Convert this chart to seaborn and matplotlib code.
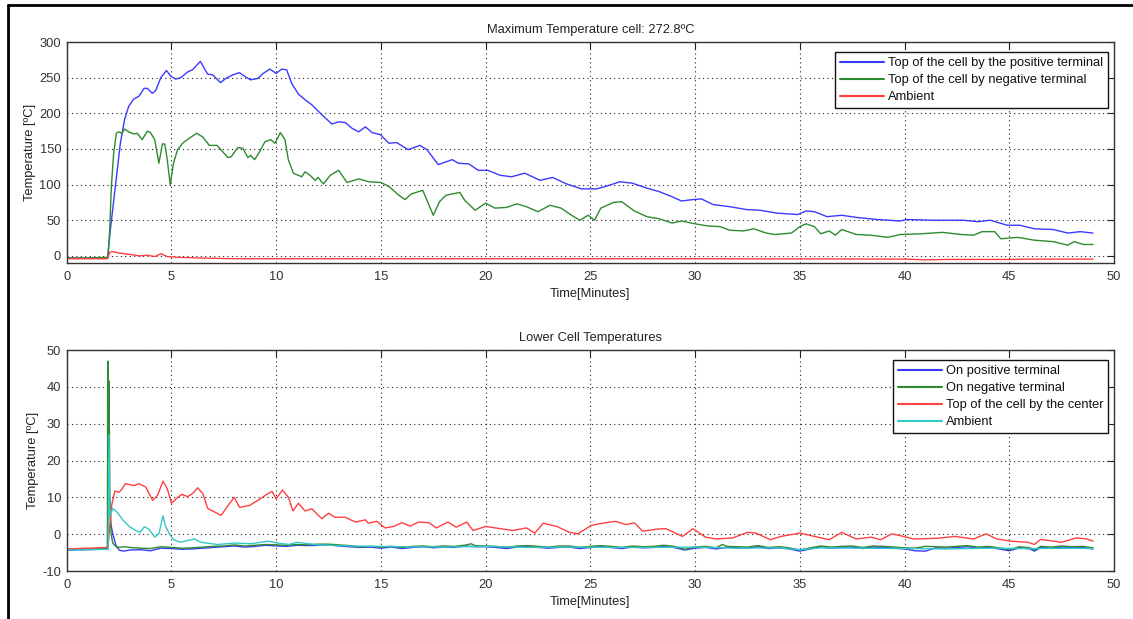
import numpy as np
import pandas as pd
import matplotlib
matplotlib.use("Agg")
import matplotlib.pyplot as plt
import seaborn as sns
from matplotlib.lines import Line2D

# ---------------- data (time [min], temperature [ºC]) ----------------
top_positive = [(0, -3), (1.0, -3), (1.95, -3), (2.08, 36), (2.32, 97), (2.56, 158), (2.76, 191), (2.96, 210),
                (3.2, 220), (3.45, 224), (3.69, 235), (3.85, 235), (4.09, 228), (4.25, 232), (4.49, 250),
                (4.76, 260), (4.97, 252), (5.2, 248), (5.45, 250), (5.77, 258), (6.0, 261), (6.38, 272.8),
                (6.57, 263), (6.73, 255), (6.97, 254), (7.34, 243), (7.6, 249), (7.93, 254), (8.25, 257),
                (8.49, 252), (8.78, 247), (9.13, 249), (9.38, 256), (9.7, 262), (10.0, 256), (10.26, 262),
                (10.5, 261), (10.74, 242), (11.06, 227), (11.38, 219), (11.7, 212), (12.18, 198), (12.66, 185),
                (12.98, 188), (13.3, 187), (13.62, 179), (13.94, 174), (14.26, 181), (14.58, 173), (14.98, 170),
                (15.38, 158), (15.75, 159), (16.3, 149), (16.86, 155), (17.2, 149), (17.74, 128), (18.4, 135),
                (18.7, 130), (19.2, 129), (19.65, 120), (20.1, 120), (20.7, 113), (21.24, 111), (21.87, 116),
                (22.6, 106), (23.2, 110), (23.86, 101), (24.58, 94), (25.3, 94), (25.9, 99), (26.4, 104),
                (27.0, 102), (27.7, 95), (28.3, 90), (28.9, 83), (29.35, 77), (29.9, 79), (30.3, 80),
                (30.86, 72), (31.66, 69), (32.45, 65), (33.1, 64), (33.9, 60), (34.9, 58), (35.3, 63),
                (35.7, 62), (36.3, 55), (37.0, 57), (37.7, 54), (38.7, 51), (39.8, 49), (40.1, 51), (41.4, 50),
                (42.8, 50), (43.5, 48), (44.1, 50), (44.9, 43), (45.5, 43), (46.2, 38), (47.1, 37), (47.8, 32),
                (48.4, 34), (49.0, 32)]

top_negative = [(0, -3), (1.0, -3), (1.97, -2), (2.05, 36), (2.13, 97), (2.24, 144), (2.37, 172), (2.48, 174),
                (2.64, 172), (2.76, 178), (2.96, 174), (3.2, 171), (3.37, 172), (3.6, 163), (3.85, 175),
                (4.0, 173), (4.2, 163), (4.4, 130), (4.57, 157), (4.68, 157), (4.8, 135), (4.94, 100),
                (5.1, 130), (5.29, 149), (5.53, 158), (5.9, 166), (6.2, 172), (6.49, 167), (6.81, 155),
                (7.18, 155), (7.69, 138), (7.85, 139), (8.17, 152), (8.41, 151), (8.65, 138), (8.78, 141),
                (8.97, 135), (9.21, 146), (9.46, 160), (9.74, 163), (9.94, 158), (10.2, 173), (10.42, 163),
                (10.58, 135), (10.82, 116), (11.22, 111), (11.38, 118), (11.62, 113), (11.86, 106), (12.0, 110),
                (12.26, 101), (12.58, 113), (12.98, 120), (13.38, 103), (13.94, 108), (14.42, 104), (15.0, 103),
                (15.4, 97), (15.86, 85), (16.15, 79), (16.46, 87), (17.0, 92), (17.5, 57), (17.8, 76),
                (18.1, 85), (18.77, 89), (19.0, 78), (19.5, 64), (20.0, 74), (20.44, 67), (21.0, 68),
                (21.5, 73), (21.95, 69), (22.5, 62), (23.07, 71), (23.6, 67), (24.1, 57), (24.5, 50),
                (24.9, 57), (25.2, 50), (25.5, 67), (26.1, 75), (26.5, 76), (27.1, 63), (27.7, 55), (28.3, 52),
                (28.9, 46), (29.35, 49), (30.0, 45), (30.6, 42), (31.2, 41), (31.66, 36), (32.3, 35),
                (32.8, 38), (33.4, 32), (33.8, 30), (34.6, 32), (35.0, 41), (35.3, 45), (35.7, 41), (36.0, 31),
                (36.4, 35), (36.7, 29), (37.0, 37), (37.7, 30), (38.4, 29), (39.2, 26), (39.8, 30), (40.8, 31),
                (41.8, 33), (42.7, 30), (43.3, 29), (43.7, 34), (44.3, 34), (44.6, 24), (45.4, 26), (46.2, 22),
                (47.1, 20), (47.8, 15), (48.1, 20), (48.55, 16), (49.0, 16)]

top_ambient = [(0, -4), (1.95, -4), (2.05, 5), (2.2, 6), (2.5, 4), (3.0, 2), (3.5, 0), (3.85, 1), (4.2, -1),
               (4.5, 3), (4.8, -1), (5.3, -2), (6.4, -3), (8.0, -4), (15.0, -4), (30.0, -4), (40.0, -4.5),
               (41.0, -5.5), (42.0, -5), (45.0, -5), (46.0, -4.5), (49.0, -4.5)]

low_positive = [(0, -4.3), (1.0, -4.2), (1.95, -4.0), (2.0, 16.5), (2.05, 8), (2.1, 3), (2.2, 0), (2.35, -3),
                (2.5, -4.3), (2.7, -4.6), (3.0, -4.3), (3.5, -4.2), (4.0, -4.5), (4.5, -3.8), (5.0, -3.9),
                (5.5, -4.1), (6.0, -4.0), (6.5, -3.8), (7.0, -3.6), (7.5, -3.4), (8.0, -3.2), (8.5, -3.5),
                (9.0, -3.3), (9.5, -3.0), (10.0, -3.2), (10.5, -3.3), (11.0, -3.0), (11.5, -3.1), (12.0, -3.0),
                (12.5, -2.9), (13.0, -3.2), (13.5, -3.4), (14.0, -3.6), (14.5, -3.5), (15.0, -3.8), (15.5, -3.5),
                (16.0, -3.9), (16.5, -3.6), (17.0, -3.4), (17.5, -3.7), (18.0, -3.5), (18.5, -3.6), (19.0, -3.2),
                (19.5, -3.4), (20.0, -3.4), (20.5, -3.6), (21.0, -3.9), (21.5, -3.5), (22.0, -3.4), (22.5, -3.6),
                (23.0, -3.8), (23.5, -3.6), (24.0, -3.5), (24.5, -3.9), (25.0, -3.6), (25.5, -3.4), (26.0, -3.6),
                (26.5, -3.9), (27.0, -3.5), (27.5, -3.7), (28.0, -3.6), (28.5, -3.4), (29.0, -3.6), (29.5, -4.3),
                (30.0, -3.8), (30.5, -3.6), (31.0, -4.0), (31.5, -3.6), (32.0, -3.7), (32.5, -3.8), (33.0, -3.4),
                (33.5, -3.9), (34.0, -3.7), (34.5, -4.0), (35.0, -4.6), (35.5, -4.0), (36.0, -3.5), (36.5, -3.8),
                (37.0, -3.6), (37.5, -3.5), (38.0, -3.9), (38.5, -3.5), (39.0, -3.6), (39.5, -3.8), (40.0, -4.0),
                (40.5, -4.5), (41.0, -4.6), (41.5, -3.7), (42.0, -3.8), (42.5, -3.6), (43.0, -3.4), (43.5, -3.8),
                (44.0, -3.6), (44.5, -4.0), (45.0, -4.5), (45.5, -3.7), (46.0, -4.0), (46.2, -4.6), (46.5, -3.6),
                (47.0, -3.8), (47.5, -3.5), (48.0, -3.7), (48.5, -3.6), (49.0, -4.0)]

low_negative = [(0, -4.2), (1.0, -4.0), (1.94, -4.0), (1.96, 47), (1.99, 20), (2.02, 41.6), (2.06, 10),
                (2.12, 0), (2.2, -2.5), (2.4, -3.6), (2.8, -3.4), (3.0, -3.6), (3.5, -3.8), (4.0, -3.9),
                (4.5, -3.4), (5.0, -3.6), (5.5, -3.8), (6.0, -3.7), (6.5, -3.5), (7.0, -3.3), (7.5, -3.2),
                (8.0, -2.9), (8.5, -3.2), (9.0, -3.0), (9.5, -2.8), (10.0, -2.9), (10.5, -3.0), (11.0, -2.8),
                (11.5, -2.9), (12.0, -2.7), (12.5, -2.7), (13.0, -2.9), (13.5, -3.1), (14.0, -3.5), (14.5, -3.3),
                (15.0, -3.5), (15.5, -3.3), (16.0, -3.6), (16.5, -3.3), (17.0, -3.2), (17.5, -3.4), (18.0, -3.2),
                (18.5, -3.3), (19.0, -3.0), (19.3, -2.6), (19.5, -3.1), (20.0, -3.2), (20.5, -3.3), (21.0, -3.6),
                (21.5, -3.2), (22.0, -3.1), (22.5, -3.3), (23.0, -3.5), (23.5, -3.2), (24.0, -3.2), (24.5, -3.6),
                (25.0, -3.3), (25.5, -3.1), (26.0, -3.3), (26.5, -3.6), (27.0, -3.2), (27.5, -3.4), (28.0, -3.3),
                (28.5, -3.0), (29.0, -3.3), (29.5, -4.1), (30.0, -3.5), (30.5, -3.3), (31.0, -3.7), (31.3, -2.8),
                (31.5, -3.3), (32.0, -3.4), (32.5, -3.5), (33.0, -3.1), (33.5, -3.6), (34.0, -3.4), (34.5, -3.7),
                (35.0, -4.3), (35.5, -3.7), (36.0, -3.2), (36.5, -3.5), (37.0, -3.3), (37.5, -3.2), (38.0, -3.6),
                (38.5, -3.2), (39.0, -3.3), (39.5, -3.5), (40.0, -3.7), (40.5, -3.8), (41.0, -3.3), (41.5, -3.4),
                (42.0, -3.5), (42.5, -3.3), (43.0, -3.1), (43.5, -3.5), (44.0, -3.3), (44.5, -3.7), (45.0, -4.2),
                (45.5, -3.4), (46.0, -3.7), (46.2, -4.3), (46.5, -3.3), (47.0, -3.5), (47.5, -3.2), (48.0, -3.4),
                (48.5, -3.3), (49.0, -3.7)]

low_center = [(0, -4.0), (1.0, -3.8), (1.97, -3.6), (2.05, 2), (2.15, 8), (2.3, 11.7), (2.5, 11.4), (2.6, 12),
              (2.8, 13.7), (3.2, 13.2), (3.45, 13.7), (3.77, 12.8), (4.1, 9.2), (4.33, 10.5), (4.6, 14.4),
              (4.8, 12.3), (5.0, 8.4), (5.3, 10), (5.5, 10.8), (5.77, 10.2), (6.0, 11), (6.25, 12.6), (6.5, 11),
              (6.73, 7), (7.37, 5.1), (7.7, 7.8), (8.0, 10), (8.25, 7.3), (8.73, 7.8), (9.13, 9.2), (9.6, 11),
              (9.8, 11.6), (10.0, 9.6), (10.3, 12), (10.58, 10), (10.8, 6.3), (11.06, 8.4), (11.38, 6.3),
              (11.7, 6.9), (12.18, 4.2), (12.5, 5.7), (12.8, 4.6), (13.3, 4.6), (13.78, 3.3), (14.26, 3.9),
              (14.4, 3), (14.8, 3.5), (15.2, 1.7), (15.6, 2.1), (16.0, 3.1), (16.4, 2.2), (16.8, 3.3),
              (17.3, 3.1), (17.65, 1.7), (18.2, 3.3), (18.6, 1.9), (19.1, 3.3), (19.4, 1), (20.0, 2.1),
              (20.7, 1.5), (21.3, 1), (21.95, 1.7), (22.35, 0.3), (22.75, 3), (23.4, 2.1), (24.0, 0.5),
              (24.4, 0.1), (25.05, 2.4), (25.6, 3), (26.2, 3.5), (26.7, 2.6), (27.1, 3.1), (27.5, 0.8),
              (28.2, 1.4), (28.6, 1.5), (29.4, -0.6), (29.9, 1.5), (30.5, -0.8), (31.0, -1.3), (31.8, -1),
              (32.5, 0.5), (32.9, 0.3), (33.6, -1.5), (34.1, -0.6), (35.0, 0.3), (35.7, -0.6), (36.4, -1.5),
              (37.0, 0.5), (37.7, -1.3), (38.4, -0.8), (38.85, -1.5), (39.4, 0.1), (39.8, -0.4), (40.45, -1.3),
              (41.6, -1.1), (42.4, -0.6), (43.3, -1.3), (43.9, 0.1), (44.4, -1.3), (45.1, -1.9), (45.9, -2.2),
              (46.2, -2.8), (46.5, -1.4), (47.5, -2.2), (48.2, -1), (48.7, -1.3), (49.0, -1.9)]

low_ambient = [(0, -4.3), (1.0, -4.2), (1.98, -4.1), (2.02, 27), (2.06, 5), (2.2, 7), (2.4, 6), (2.7, 3.7),
               (3.0, 2), (3.3, 1), (3.5, 0.5), (3.7, 2), (3.9, 1.5), (4.2, -0.8), (4.4, 0.1), (4.6, 5),
               (4.7, 2.4), (4.9, 0.1), (5.1, -1.5), (5.45, -2.2), (5.77, -1.7), (6.1, -1.3), (6.4, -2.2),
               (7.2, -2.8), (8.0, -2.4), (8.8, -2.6), (9.6, -1.9), (10.1, -2.4), (10.6, -2.8), (11.0, -2.2),
               (12.0, -2.9), (13.6, -3.2), (16.0, -3.4), (18.0, -3.5), (20.0, -3.3), (22.0, -3.6), (24.0, -3.5),
               (26.0, -3.6), (28.0, -3.6), (30.0, -3.5), (32.0, -3.8), (34.0, -3.7), (35.0, -4.2), (36.0, -3.7),
               (38.0, -3.8), (40.0, -3.9), (42.0, -4.0), (44.0, -3.8), (46.0, -3.9), (48.0, -3.8), (49.0, -3.9)]

top_labels = ["Top of the cell by the positive terminal", "Top of the cell by negative terminal", "Ambient"]
low_labels = ["On positive terminal", "On negative terminal", "Top of the cell by the center", "Ambient"]
top_title = "Maximum Temperature cell: 272.8ºC"
low_title = "Lower Cell Temperatures"
x_ticks = [0, 5, 10, 15, 20, 25, 30, 35, 40, 45, 50]
top_yticks = [0, 50, 100, 150, 200, 250, 300]
low_yticks = [-10, 0, 10, 20, 30, 40, 50]

# ---------------- style ----------------
sns.set_style("white")
plt.rcParams["font.family"] = ["Liberation Sans", "DejaVu Sans"]
plt.rcParams["font.size"] = 9
plt.rcParams["axes.unicode_minus"] = False

FS = 9.3
BLUE = "#3a3aff"
GREEN = "#2e8b2e"
RED = "#ff4040"
CYAN = "#33c8c8"


def to_df(series_list, labels):
    frames = []
    for pts, lab in zip(series_list, labels):
        arr = np.array(pts, dtype=float)
        frames.append(pd.DataFrame({"time": arr[:, 0], "temp": arr[:, 1], "series": lab}))
    return pd.concat(frames, ignore_index=True)


fig = plt.figure(figsize=(11.33, 6.19), dpi=100)
fig.patch.set_facecolor("white")

ax1 = fig.add_axes([0.0589, 0.5751, 0.9243, 0.3570])
ax2 = fig.add_axes([0.0589, 0.0775, 0.9243, 0.3570])


def style_axes(ax, yticks, ylim, title):
    ax.set_xlim(0, 50)
    ax.set_ylim(*ylim)
    ax.set_xticks(x_ticks)
    ax.set_yticks(yticks)
    ax.grid(True, linestyle=(0, (1, 3)), color="#222222", linewidth=0.8)
    ax.tick_params(direction="in", length=5, width=0.8, top=True, right=True,
                   labelsize=FS, colors="#222222", labelcolor="#333333", pad=4)
    ax.tick_params(axis="x", pad=6)
    for sp in ax.spines.values():
        sp.set_color("#333333")
        sp.set_linewidth(1.0)
    ax.set_xlabel("Time[Minutes]", fontsize=FS, color="#222222", labelpad=3)
    ax.set_ylabel("Temperature [ºC]", fontsize=FS, color="#222222", labelpad=2.5)
    ax.set_title(title, fontsize=FS, color="#222222", pad=6.5)


df_top = to_df([top_positive, top_negative, top_ambient], top_labels)
sns.lineplot(data=df_top, x="time", y="temp", hue="series", hue_order=top_labels,
             palette=[BLUE, GREEN, RED], estimator=None, sort=False, linewidth=1.0,
             ax=ax1, legend=False)
style_axes(ax1, top_yticks, (-10, 300), top_title)

df_low = to_df([low_positive, low_negative, low_center, low_ambient], low_labels)
sns.lineplot(data=df_low, x="time", y="temp", hue="series", hue_order=low_labels,
             palette=[BLUE, GREEN, RED, CYAN], estimator=None, sort=False, linewidth=1.0,
             ax=ax2, legend=False)
style_axes(ax2, low_yticks, (-10, 50), low_title)


def add_legend(ax, colors, labels):
    handles = [Line2D([0], [0], color=c, lw=1.5) for c in colors]
    leg = ax.legend(handles, labels, loc="upper right", bbox_to_anchor=(0.9947, 0.955),
                    fancybox=False, framealpha=1, edgecolor="#111111", fontsize=FS,
                    handlelength=3.4, handletextpad=0.3, labelspacing=0.38,
                    borderpad=0.4, borderaxespad=0.0)
    leg.get_frame().set_linewidth(1.0)
    for t in leg.get_texts():
        t.set_color("#111111")


add_legend(ax1, [BLUE, GREEN, RED], top_labels)
add_legend(ax2, [BLUE, GREEN, RED, CYAN], low_labels)

# figure frame (top and left edges of the screenshot)
fig.add_artist(Line2D([0.0075, 1.0], [0.992, 0.992], transform=fig.transFigure, color="black", lw=2))
fig.add_artist(Line2D([0.0075, 0.0075], [0.0, 0.992], transform=fig.transFigure, color="black", lw=2))

fig.savefig("out.png", dpi=100, facecolor="white")
